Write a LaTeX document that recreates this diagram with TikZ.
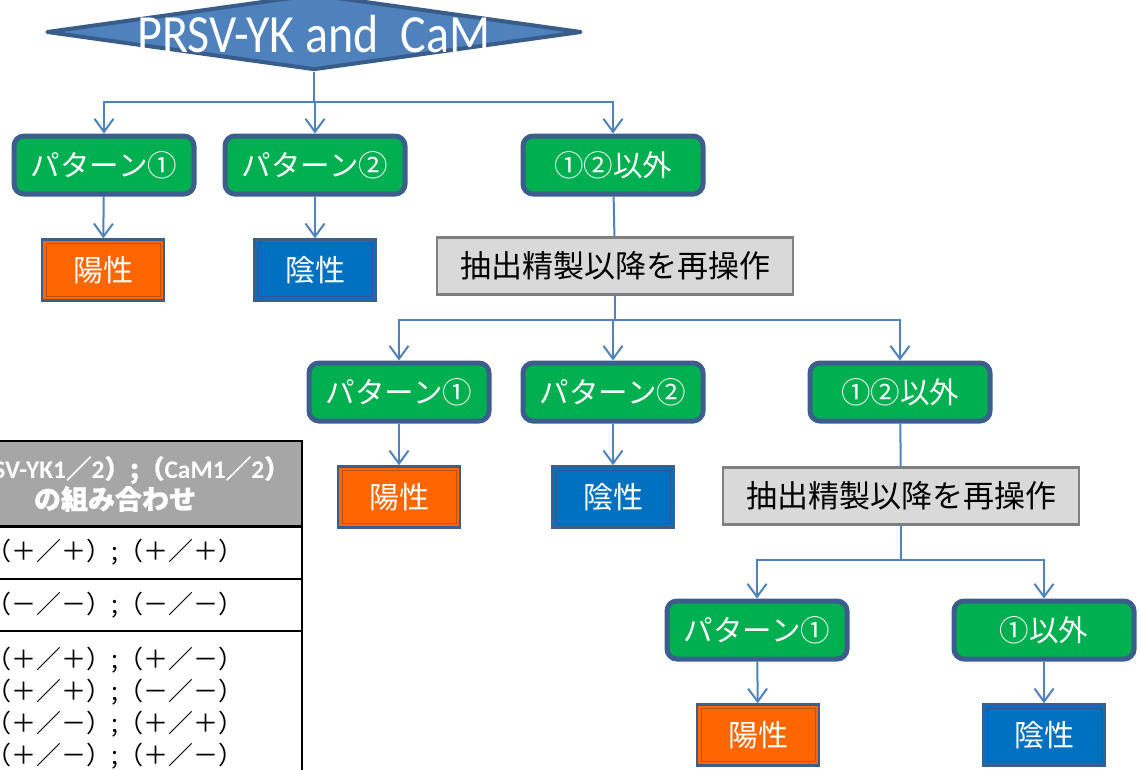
\documentclass[tikz,border=0pt]{standalone}
\usepackage{fontspec}
\setmainfont{Carlito}
\newfontfamily\cjk{Noto Sans CJK JP}
\newfontfamily\cjkb[FakeBold=1]{Noto Sans CJK JP}
\usetikzlibrary{shapes.geometric,arrows.meta}
\definecolor{dfill}{HTML}{4F81BD}
\definecolor{dborder}{HTML}{385D8A}
\definecolor{gborder}{HTML}{3B5E8C}
\definecolor{ggreen}{HTML}{00B050}
\definecolor{orng}{HTML}{FF6600}
\definecolor{oline}{HTML}{C0500A}
\definecolor{bblue}{HTML}{0070C0}
\definecolor{bline}{HTML}{2F5597}
\definecolor{lgray}{HTML}{D9D9D9}
\definecolor{mgray}{HTML}{7F7F7F}
\definecolor{hgray}{HTML}{A6A6A6}
\definecolor{conn}{HTML}{4F81BD}
\tikzset{
  pat/.style={rectangle, rounded corners=10pt, fill=ggreen, draw=gborder, line width=5pt,
    minimum width=180pt, minimum height=58pt, inner sep=0pt, text=white,
    font=\cjk\fontsize{29.5}{31}\selectfont},
  res/.style 2 args={rectangle, fill=#1, draw=gborder, line width=2.5pt,
    minimum width=122pt, minimum height=61pt, inner sep=0pt, text=white,
    font=\cjk\fontsize{30}{32}\selectfont,
    path picture={\draw[#2, line width=1pt]
      ([shift={(4pt,-4pt)}]path picture bounding box.north west) rectangle
      ([shift={(-4pt,4pt)}]path picture bounding box.south east);}},
  redo/.style={rectangle, fill=lgray, draw=mgray, line width=2.5pt,
    minimum width=356pt, minimum height=57pt, inner sep=0pt, text=black,
    font=\cjk\fontsize{31}{33}\selectfont},
  cline/.style={draw=conn, line width=2pt},
  arr/.style={cline, -{Straight Barb[length=13pt,width=19pt,line width=2pt]}},
  cell/.style={rectangle, draw=black, line width=2pt, minimum width=374pt,
    inner sep=0pt, align=center, font=\cjk\fontsize{25}{32}\selectfont},
}
\begin{document}
\begin{tikzpicture}[x=1pt,y=-1pt]
\clip (0,0) rectangle (1139,769);
% top diamond
\node[diamond, fill=dfill, draw=dborder, line width=4pt, line join=round,
  minimum width=535pt, minimum height=76pt, inner sep=0pt] (d) at (314,32) {};
\node[text=white, inner sep=0pt, font=\fontsize{48}{50}\selectfont] (dt) at (314,34)
  {\scalebox{1}[1.12]{PRSV-YK and\ \ CaM}};
% row 1
\node[pat] (a1) at (104,165) {パターン①};
\node[pat] (a2) at (315,165) {パターン②};
\node[pat] (a3) at (613,165) {①②以外};
\node[res={orng}{oline}] (r1) at (103,270) {陽性};
\node[res={bblue}{bline}] (r2) at (315,270) {陰性};
\node[redo] (g1) at (615,266) {抽出精製以降を再操作};
% row 2
\node[pat] (b1) at (399,392) {パターン①};
\node[pat] (b2) at (613,392) {パターン②};
\node[pat] (b3) at (900,392) {①②以外};
\node[res={orng}{oline}] (s1) at (399,497) {陽性};
\node[res={bblue}{bline}] (s2) at (613,497) {陰性};
\node[redo] (g2) at (901,496) {抽出精製以降を再操作};
% row 3
\node[pat] (c1) at (757,630) {パターン①};
\node[pat] (c2) at (1044,630) {①以外};
\node[res={orng}{oline}] (t1) at (758,735) {陽性};
\node[res={bblue}{bline}] (t2) at (1044,735) {陰性};
% connectors
\draw[cline] (d.south) -- (d.south |- 0,102) coordinate (j1);
\draw[arr] (j1) -| (a1.north);
\draw[arr] (j1) -| (a2.north);
\draw[arr] (j1) -| (a3.north);
\draw[arr] (a1) -- (r1);
\draw[arr] (a2) -- (r2);
\draw[cline] (a3) -- (g1);
\draw[cline] (g1.south) -- (g1.south |- 0,320) coordinate (j2);
\draw[arr] (j2) -| (b1.north);
\draw[arr] (j2) -| (b2.north);
\draw[arr] (j2) -| (b3.north);
\draw[arr] (b1) -- (s1);
\draw[arr] (b2) -- (s2);
\draw[cline] (b3) -- (g2);
\draw[cline] (g2.south) -- (g2.south |- 0,560) coordinate (j3);
\draw[arr] (j3) -| (c1.north);
\draw[arr] (j3) -| (c2.north);
\draw[arr] (c1) -- (t1);
\draw[arr] (c2) -- (t2);
% table
\node[cell, fill=hgray, text=white, minimum height=86pt,
  font=\fontsize{25.5}{31}\selectfont\bfseries] (th) at (115,484)
  {{\cjkb （}PRSV-YK1{\cjkb ／}2{\cjkb ）;（}CaM1{\cjkb ／}2{\cjkb ）}\\{\cjkb\fontsize{27}{31}\selectfont の組み合わせ}};
\node[cell, minimum height=53pt] (tr1) at (115,552.5) {（＋／＋）;（＋／＋）};
\node[cell, minimum height=52pt] (tr2) at (115,605) {（－／－）;（－／－）};
\node[cell, minimum height=154pt] (tr3) at (115,708)
  {（＋／＋）;（＋／－）\\（＋／＋）;（－／－）\\（＋／－）;（＋／＋）\\（＋／－）;（＋／－）};
\end{tikzpicture}
\end{document}
